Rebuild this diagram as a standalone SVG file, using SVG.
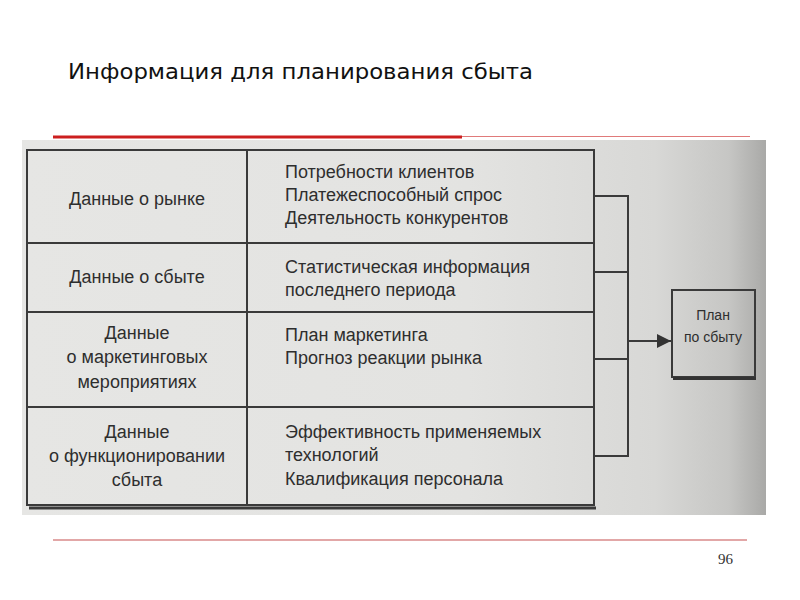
<svg xmlns="http://www.w3.org/2000/svg" width="800" height="600" viewBox="0 0 800 600">
<defs>
<linearGradient id="scan" x1="0" y1="0" x2="1" y2="0">
<stop offset="0" stop-color="#e6e6e4"/>
<stop offset="0.6" stop-color="#e3e3e1"/>
<stop offset="0.85" stop-color="#d8d8d6"/>
<stop offset="0.95" stop-color="#c6c6c4"/>
<stop offset="1" stop-color="#a9a9a7"/>
</linearGradient>
<marker id="arr" viewBox="0 0 10 10" refX="10" refY="5" markerWidth="14" markerHeight="14" markerUnits="userSpaceOnUse" orient="auto">
<path d="M0,0 L10,5 L0,10 z" fill="#333"/>
</marker>
<style>
.ln{stroke:#3a3a3a;stroke-width:2;fill:none}
.t{font-family:"Liberation Sans",Arial,sans-serif;font-size:18px;fill:#2e2e2e}
.c{text-anchor:middle}
.title{font-family:"DejaVu Sans",Verdana,sans-serif;font-size:21px;fill:#111}
</style>
</defs>
<rect width="800" height="600" fill="#ffffff"/>
<text class="title" x="68" y="79" textLength="465" lengthAdjust="spacingAndGlyphs">Информация для планирования сбыта</text>
<rect x="22" y="140" width="744" height="375" fill="url(#scan)"/>
<line x1="53" y1="137" x2="462" y2="137" stroke="#cc1f1f" stroke-width="3"/>
<line x1="462" y1="136.5" x2="750" y2="136.5" stroke="#e07a7a" stroke-width="1"/>
<line x1="53" y1="540" x2="747" y2="540" stroke="#d98a8a" stroke-width="1.5"/>
<text x="733" y="564" text-anchor="end" font-family="Liberation Serif,'Times New Roman',serif" font-size="15" fill="#333">96</text>
<g id="table">
<rect x="27" y="150" width="567" height="355" fill="#ecece9" class="ln"/>
<line class="ln" x1="247" y1="150" x2="247" y2="505"/>
<line class="ln" x1="27" y1="243" x2="594" y2="243"/>
<line class="ln" x1="27" y1="312" x2="594" y2="312"/>
<line class="ln" x1="27" y1="407" x2="594" y2="407"/>
<line x1="29" y1="508" x2="596" y2="508" stroke="#3a3a3a" stroke-width="3"/>
</g>
<g id="row1">
<text class="t c" x="137" y="205">Данные о рынке</text>
<text class="t" x="285" y="178">Потребности клиентов</text>
<text class="t" x="285" y="201">Платежеспособный спрос</text>
<text class="t" x="285" y="224">Деятельность конкурентов</text>
</g>
<g id="row2">
<text class="t c" x="137" y="283">Данные о сбыте</text>
<text class="t" x="285" y="273">Статистическая информация</text>
<text class="t" x="285" y="296">последнего периода</text>
</g>
<g id="row3">
<text class="t c" x="137" y="339">Данные</text>
<text class="t c" x="137" y="363">о маркетинговых</text>
<text class="t c" x="137" y="388">мероприятиях</text>
<text class="t" x="285" y="341">План маркетинга</text>
<text class="t" x="285" y="364">Прогноз реакции рынка</text>
</g>
<g id="row4">
<text class="t c" x="137" y="438">Данные</text>
<text class="t c" x="137" y="462">о функционировании</text>
<text class="t c" x="137" y="486">сбыта</text>
<text class="t" x="285" y="438">Эффективность применяемых</text>
<text class="t" x="285" y="461">технологий</text>
<text class="t" x="285" y="485">Квалификация персонала</text>
</g>
<g id="connectors">
<path class="ln" d="M594,196 H628 V272 H594"/>
<path class="ln" d="M594,359 H628 V456 H594"/>
<line class="ln" x1="628" y1="272" x2="628" y2="359"/>
<line class="ln" x1="628" y1="341" x2="671" y2="341" marker-end="url(#arr)"/>
</g>
<g id="plan">
<rect x="672" y="290" width="83" height="87" fill="#e6e6e4" class="ln"/>
<line x1="673" y1="378.5" x2="756" y2="378.5" stroke="#333" stroke-width="3"/>
<text class="t c" x="713" y="320" style="font-size:14px">План</text>
<text class="t c" x="713" y="342" style="font-size:14px">по сбыту</text>
</g>
</svg>
